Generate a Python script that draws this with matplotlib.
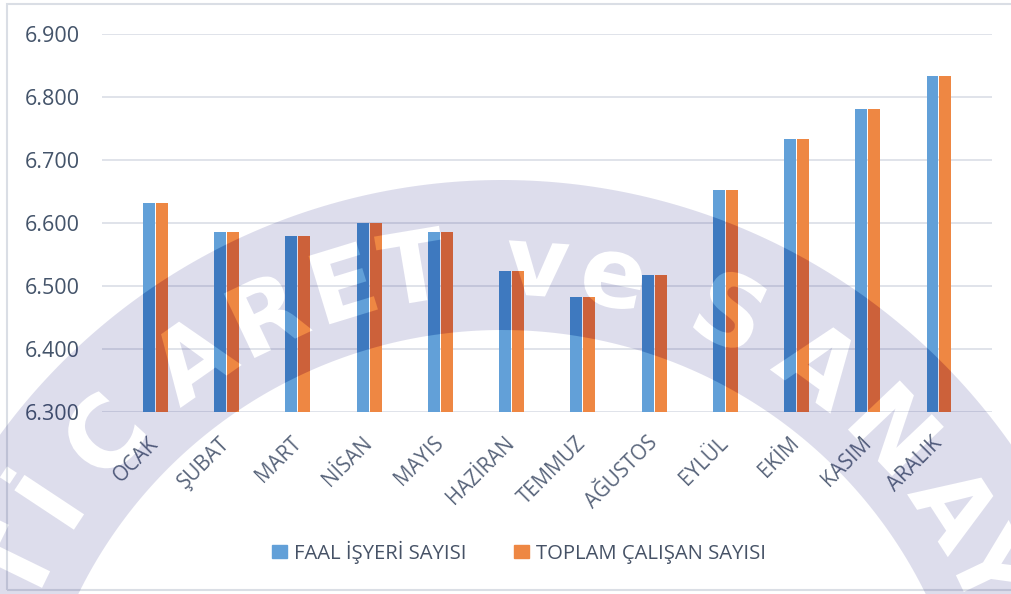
import numpy as np
import matplotlib
matplotlib.use("Agg")
import matplotlib.pyplot as plt
from matplotlib.patches import Patch, PathPatch, Rectangle
from matplotlib.path import Path
from matplotlib.textpath import TextPath
from matplotlib.font_manager import FontProperties
from matplotlib.transforms import Affine2D

months = ["OCAK", "ŞUBAT", "MART", "NİSAN", "MAYIS", "HAZİRAN",
          "TEMMUZ", "AĞUSTOS", "EYLÜL", "EKİM", "KASIM", "ARALIK"]
faal_isyeri = [6631, 6585, 6579, 6599, 6586, 6524, 6482, 6517, 6652, 6733, 6781, 6833]
toplam_calisan = [6631, 6585, 6579, 6599, 6586, 6524, 6482, 6517, 6652, 6733, 6781, 6833]
series_names = ["FAAL İŞYERİ SAYISI", "TOPLAM ÇALIŞAN SAYISI"]
y_ticks = [6300, 6400, 6500, 6600, 6700, 6800, 6900]

BLUE = "#62A0D8"
ORANGE = "#EE8743"
plt.rcParams["font.family"] = ["Open Sans", "DejaVu Sans"]

W, H = 1012, 594
fig = plt.figure(figsize=(W / 100, H / 100), dpi=100)
ax = fig.add_axes([101.7 / W, (H - 411.7) / H, 890 / W, 377.7 / H])

x = np.arange(len(months))
bw, off = 0.168, 0.091
b1 = ax.bar(x - off, faal_isyeri, bw, color=BLUE, zorder=2)
b2 = ax.bar(x + off, toplam_calisan, bw, color=ORANGE, zorder=2)

ax.set_xlim(-0.755, 11.74)
ax.set_ylim(y_ticks[0], y_ticks[-1])
ax.set_yticks(y_ticks)
ax.set_yticklabels([f"{v:,.0f}".replace(",", ".") for v in y_ticks],
                   fontsize=15.5, color="#44546A")
ax.set_xticks(x)
ax.set_xticklabels(months, rotation=45, ha="right", va="center",
                   rotation_mode="anchor", fontsize=14.8, color="#59657B")
ax.tick_params(axis="y", length=0, pad=15.5)
ax.tick_params(axis="x", length=0, pad=20.5)
ax.yaxis.grid(True, color="#DDE1E8", lw=1.3)
ax.set_axisbelow(True)
for s in ax.spines.values():
    s.set_visible(False)

handles = [Patch(color=BLUE), Patch(color=ORANGE)]
fig.legend(handles, series_names, loc="center", ncol=2, frameon=False,
           bbox_to_anchor=(519 / W, (H - 552) / H), fontsize=14.6,
           handlelength=0.75, handleheight=0.62, handletextpad=0.35,
           columnspacing=2.3, labelcolor="#465266")

# border around the chart
fig.patches.append(Rectangle((7 / W, 4 / H), 1.2, (590 - 4) / H,
                             transform=fig.transFigure, fill=False,
                             edgecolor="#DADEE5", lw=1.5))

# watermark ring with letters cut out
ov = fig.add_axes([0, 0, 1, 1], zorder=10)
ov.set_xlim(0, W)
ov.set_ylim(0, H)
ov.axis("off")
ov.patch.set_alpha(0)

cx, cy = 502, H - 802
r_out, r_in, r_txt = 622, 472, 543
t = np.linspace(0, 2 * np.pi, 500)
outer = np.column_stack([cx + r_out * np.cos(t), cy + r_out * np.sin(t)])
inner = np.column_stack([cx + r_in * np.cos(t[::-1]), cy + r_in * np.sin(t[::-1])])
paths = []
for ring in (outer, inner):
    codes = [Path.MOVETO] + [Path.LINETO] * (len(ring) - 2) + [Path.CLOSEPOLY]
    paths.append(Path(ring, codes))

letters = list("TİCARETveSANAYİ")
angles = [-64, -56.5, -47.5, -35, -25.5, -17, -9.5, 3.8, 12,
          25, 36, 46.5, 57, 64.5, 71]
size = 98
fp = FontProperties(family="DejaVu Sans", weight="bold")
cap = 0.729 * size
for ch, a in zip(letters, angles):
    tp = TextPath((0, 0), ch, size=size, prop=fp)
    ext = tp.get_extents()
    rad = np.radians(a)
    tf = (Affine2D().translate(-(ext.x0 + ext.x1) / 2, -cap / 2)
          .rotate_deg(-a)
          .translate(cx + r_txt * np.sin(rad), cy + r_txt * np.cos(rad)))
    paths.append(tf.transform_path(tp))

wm = Path.make_compound_path(*paths)

# the watermark darkens the bars more than the white background
ylo = ax.get_ylim()[0]
for bars, dark in ((b1, "#0057B0"), (b2, "#E63400")):
    for bar in bars:
        clip = Rectangle((bar.get_x(), ylo), bar.get_width(),
                         bar.get_height() - ylo, transform=ax.transData)
        pp = PathPatch(wm, facecolor=dark, alpha=0.3, edgecolor="none", zorder=1)
        ov.add_patch(pp)
        pp.set_clip_path(clip)

ov.add_patch(PathPatch(wm, facecolor=(0.12, 0.12, 0.5), alpha=0.15,
                       edgecolor="none", zorder=2))

fig.savefig("out.png", dpi=100)
